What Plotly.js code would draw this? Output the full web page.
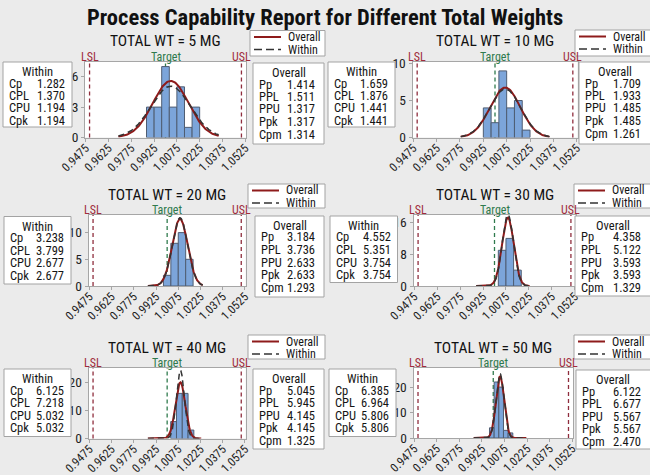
<!DOCTYPE html>
<html><head><meta charset="utf-8">
<script src="https://cdn.plot.ly/plotly-3.0.1.min.js"></script>
<style>body{margin:0;background:#ebebeb}</style>
</head><body><div id="chart" style="width:650px;height:475px"></div>
<script>
// ---------------- data ----------------
const chartTitle = 'Process Capability Report for Different Total Weights';
const panelTitles = ['TOTAL WT = 5 MG','TOTAL WT = 10 MG','TOTAL WT = 20 MG','TOTAL WT = 30 MG','TOTAL WT = 40 MG','TOTAL WT = 50 MG'];
const LSL = 0.95, TARGET = 1.0, USL = 1.05;
const xTickValues = [0.9475, 0.9625, 0.9775, 0.9925, 1.0075, 1.0225, 1.0375, 1.0525];
const xTickLabels = ['0.9475','0.9625','0.9775','0.9925','1.0075','1.0225','1.0375','1.0525'];
const yTickValues = [[0,3,6],[0,5,10],[0,5,10],[0,8,16],[0,10,20],[0,10,20]];
const yMax = [7.5, 10.27, 13.3, 17.9, 25, 27.5];
const binStart = [0.9875, 0.9925, 0.9975, 1.0025, 1.0024, 0.9975];
const binWidth = [0.005, 0.005, 0.005, 0.005, 0.0039, 0.0031];
const binCounts = [[3,3,7,3,5,1,3],[4,2,9,4,5,1],[2,8,10,5],[9,12,4],[6,16,16,3],[4,22,20,3,2]];
const withinCp  = [1.282, 1.659, 3.238, 4.552, 6.125, 6.385];
const withinCPL = [1.370, 1.876, 3.799, 5.351, 7.218, 6.964];
const withinCPU = [1.194, 1.441, 2.677, 3.754, 5.032, 5.806];
const withinCpk = [1.194, 1.441, 2.677, 3.754, 5.032, 5.806];
const overallPp  = [1.414, 1.709, 3.184, 4.358, 5.045, 6.122];
const overallPPL = [1.511, 1.933, 3.736, 5.122, 5.945, 6.677];
const overallPPU = [1.317, 1.485, 2.633, 3.593, 4.145, 5.567];
const overallPpk = [1.317, 1.485, 2.633, 3.593, 4.145, 5.567];
const overallCpm = [1.314, 1.261, 1.293, 1.329, 1.325, 2.470];
const curveFrom = [0.969, 0.978, 0.987, 0.988, 0.987, 0.987];
const curveTo   = [1.035, 1.035, 1.024, 1.023, 1.023, 1.022];
const curveArea = 0.165; // histogram scaling of fitted normal curves

// ---------------- layout helpers ----------------
const FONT = '"Roboto Condensed", "DejaVu Sans Condensed", Roboto, sans-serif';
const W = 650, H = 475;
const px = x => x / W;
const py = y => 1 - y / H;
const frames = [[85,246,61.5,137.5],[412.5,577.5,61.5,137.5],[88.6,245.7,215,286],[413.5,575.5,215,286],[88.6,245.7,368,438.5],[413.5,573,368,438]];
const withinBoxes = [[3,72,62,127],[328,395,62,127],[4,71,216.5,284],[330,397.5,216,282.5],[4,71,369,436.5],[329,396,369,436.5]];
const overallBoxes = [[253,324,63,144],[579,652,62,144],[255,324,216,297],[575,652,216,296],[253,324,369,449],[576,652,370,449]];
const legendBoxes = [[250,325,30.5,56],[575,652,30,56],[248,325,184,208],[574,652,184,208],[248,325,335,359],[574,652,335,359]];
const specLabelY = [57, 57, 209.5, 209.5, 363, 363];

const traces = [], shapes = [], annotations = [];
const layout = {
  width: W, height: H, margin: {l:0, r:0, t:0, b:0},
  paper_bgcolor: '#ebebeb', plot_bgcolor: '#ffffff', showlegend: false,
  shapes, annotations
};
const TXT = '#151515';
function txt(x, y, text, size, anchor, color) {
  annotations.push({xref:'paper', yref:'paper', x:px(x), y:py(y), text, showarrow:false,
    xanchor:anchor, yanchor:'middle', font:{family:FONT, size, color: color || TXT}});
}
function rect(b) {
  shapes.push({type:'rect', xref:'paper', yref:'paper', x0:px(b[0]), x1:px(b[1]), y0:py(b[3]), y1:py(b[2]),
    fillcolor:'#ffffff', line:{color:'#a3a3a3', width:1}});
}
function normalCurve(m, s, a, b) {
  const xs = [], ys = [];
  const n = 160;
  for (let k = 0; k <= n; k++) {
    const x = a + (b - a) * k / n;
    xs.push(x);
    ys.push(curveArea / (s * Math.sqrt(2 * Math.PI)) * Math.exp(-(x - m) * (x - m) / (2 * s * s)));
  }
  return {xs, ys};
}

txt(325, 17, '<b>' + chartTitle + '</b>', 22.5, 'center', '#111');

for (let i = 0; i < 6; i++) {
  const ax = i === 0 ? '' : String(i + 1);
  const f = frames[i];
  layout['xaxis' + ax] = {domain:[px(f[0]), px(f[1])], range:[0.947, 1.053], anchor:'y' + ax,
    tickmode:'array', tickvals:xTickValues, ticktext:xTickLabels, tickangle:-45, ticklabelstandoff:-5,
    tickfont:{family:FONT, size:12, color:'#1e1e1e'}, showline:true, mirror:true, linecolor:'#a6a6a6',
    ticks:'outside', ticklen:3, tickcolor:'#a6a6a6', showgrid:false, zeroline:false, fixedrange:true};
  layout['yaxis' + ax] = {domain:[py(f[3]), py(f[2])], range:[0, yMax[i]], anchor:'x' + ax,
    tickmode:'array', tickvals:yTickValues[i], tickfont:{family:FONT, size:13.5, color:'#1e1e1e'},
    showline:true, mirror:true, linecolor:'#a6a6a6', ticks:'outside', ticklen:3, tickcolor:'#a6a6a6',
    showgrid:false, zeroline:false, fixedrange:true};

  // histogram
  traces.push({type:'bar', xaxis:'x' + ax, yaxis:'y' + ax,
    x: binCounts[i].map((c, j) => binStart[i] + binWidth[i] * (j + 0.5)), y: binCounts[i],
    width: binWidth[i], marker:{color:'#7ca5da', line:{color:'#4f5d72', width:1}}, hoverinfo:'skip'});

  // fitted normal curves
  const mO = (USL * overallPPL[i] + LSL * overallPPU[i]) / (overallPPL[i] + overallPPU[i]);
  const sO = (USL - LSL) / (6 * overallPp[i]);
  const mW = (USL * withinCPL[i] + LSL * withinCPU[i]) / (withinCPL[i] + withinCPU[i]);
  const sW = (USL - LSL) / (6 * withinCp[i]);
  const cO = normalCurve(mO, sO, curveFrom[i], curveTo[i]);
  const cW = normalCurve(mW, sW, curveFrom[i], curveTo[i]);
  traces.push({type:'scatter', mode:'lines', xaxis:'x' + ax, yaxis:'y' + ax, x:cO.xs, y:cO.ys,
    line:{color:'#8e1b1b', width:2}, hoverinfo:'skip'});
  traces.push({type:'scatter', mode:'lines', xaxis:'x' + ax, yaxis:'y' + ax, x:cW.xs, y:cW.ys,
    line:{color:'#333333', width:1.5, dash:'6px,4px'}, hoverinfo:'skip'});

  // spec lines
  [[LSL, '#8f2d3d', 'LSL', '#a02c3c'], [TARGET, '#2f7a4d', 'Target', '#2f7a4d'], [USL, '#8f2d3d', 'USL', '#a02c3c']].forEach(s => {
    shapes.push({type:'line', xref:'x' + ax, yref:'y' + ax + ' domain', x0:s[0], x1:s[0], y0:0, y1:1,
      layer:'below', line:{color:s[1], width:1.3, dash:'4px,3px'}});
    annotations.push({xref:'x' + ax, yref:'paper', x:s[0], y:py(specLabelY[i]), text:s[2], showarrow:false,
      xanchor:'center', yanchor:'middle', font:{family:FONT, size:12, color:s[3]}});
  });

  // panel title
  txt((f[0] + f[1]) / 2, f[2] - 20.5, panelTitles[i], 15.5, 'center', '#111');

  // within box
  const wb = withinBoxes[i];
  rect(wb);
  txt((wb[0] + wb[1]) / 2, wb[2] + 9.5, 'Within', 12.5, 'center');
  [['Cp', withinCp[i]], ['CPL', withinCPL[i]], ['CPU', withinCPU[i]], ['Cpk', withinCpk[i]]].forEach((r, k) => {
    txt(wb[0] + 4, wb[2] + 21 + k * 12.5, r[0], 12.5, 'left');
    txt(wb[1] - 5, wb[2] + 21 + k * 12.5, r[1].toFixed(3), 12.5, 'right');
  });

  // overall box
  const ob = overallBoxes[i];
  rect(ob);
  const obR = Math.min(ob[1], 650);
  txt((ob[0] + obR) / 2, ob[2] + 9.5, 'Overall', 12.5, 'center');
  [['Pp', overallPp[i]], ['PPL', overallPPL[i]], ['PPU', overallPPU[i]], ['Ppk', overallPpk[i]], ['Cpm', overallCpm[i]]].forEach((r, k) => {
    txt(ob[0] + 4, ob[2] + 21 + k * 12.5, r[0], 12.5, 'left');
    txt(obR - 7, ob[2] + 21 + k * 12.5, r[1].toFixed(3), 12.5, 'right');
  });

  // legend
  const lb = legendBoxes[i];
  rect(lb);
  shapes.push({type:'line', xref:'paper', yref:'paper', x0:px(lb[0] + 4), x1:px(lb[0] + 31),
    y0:py(lb[2] + 6.5), y1:py(lb[2] + 6.5), line:{color:'#8e1b1b', width:2}});
  shapes.push({type:'line', xref:'paper', yref:'paper', x0:px(lb[0] + 4), x1:px(lb[0] + 31),
    y0:py(lb[2] + 19), y1:py(lb[2] + 19), line:{color:'#333333', width:1.5, dash:'8px,4px'}});
  txt(lb[0] + 36, lb[2] + 6.5, 'Overall', 12, 'left');
  txt(lb[0] + 36, lb[2] + 19, 'Within', 12, 'left');
}

Plotly.newPlot('chart', traces, layout, {displayModeBar:false, staticPlot:true});
</script>
</body></html>
